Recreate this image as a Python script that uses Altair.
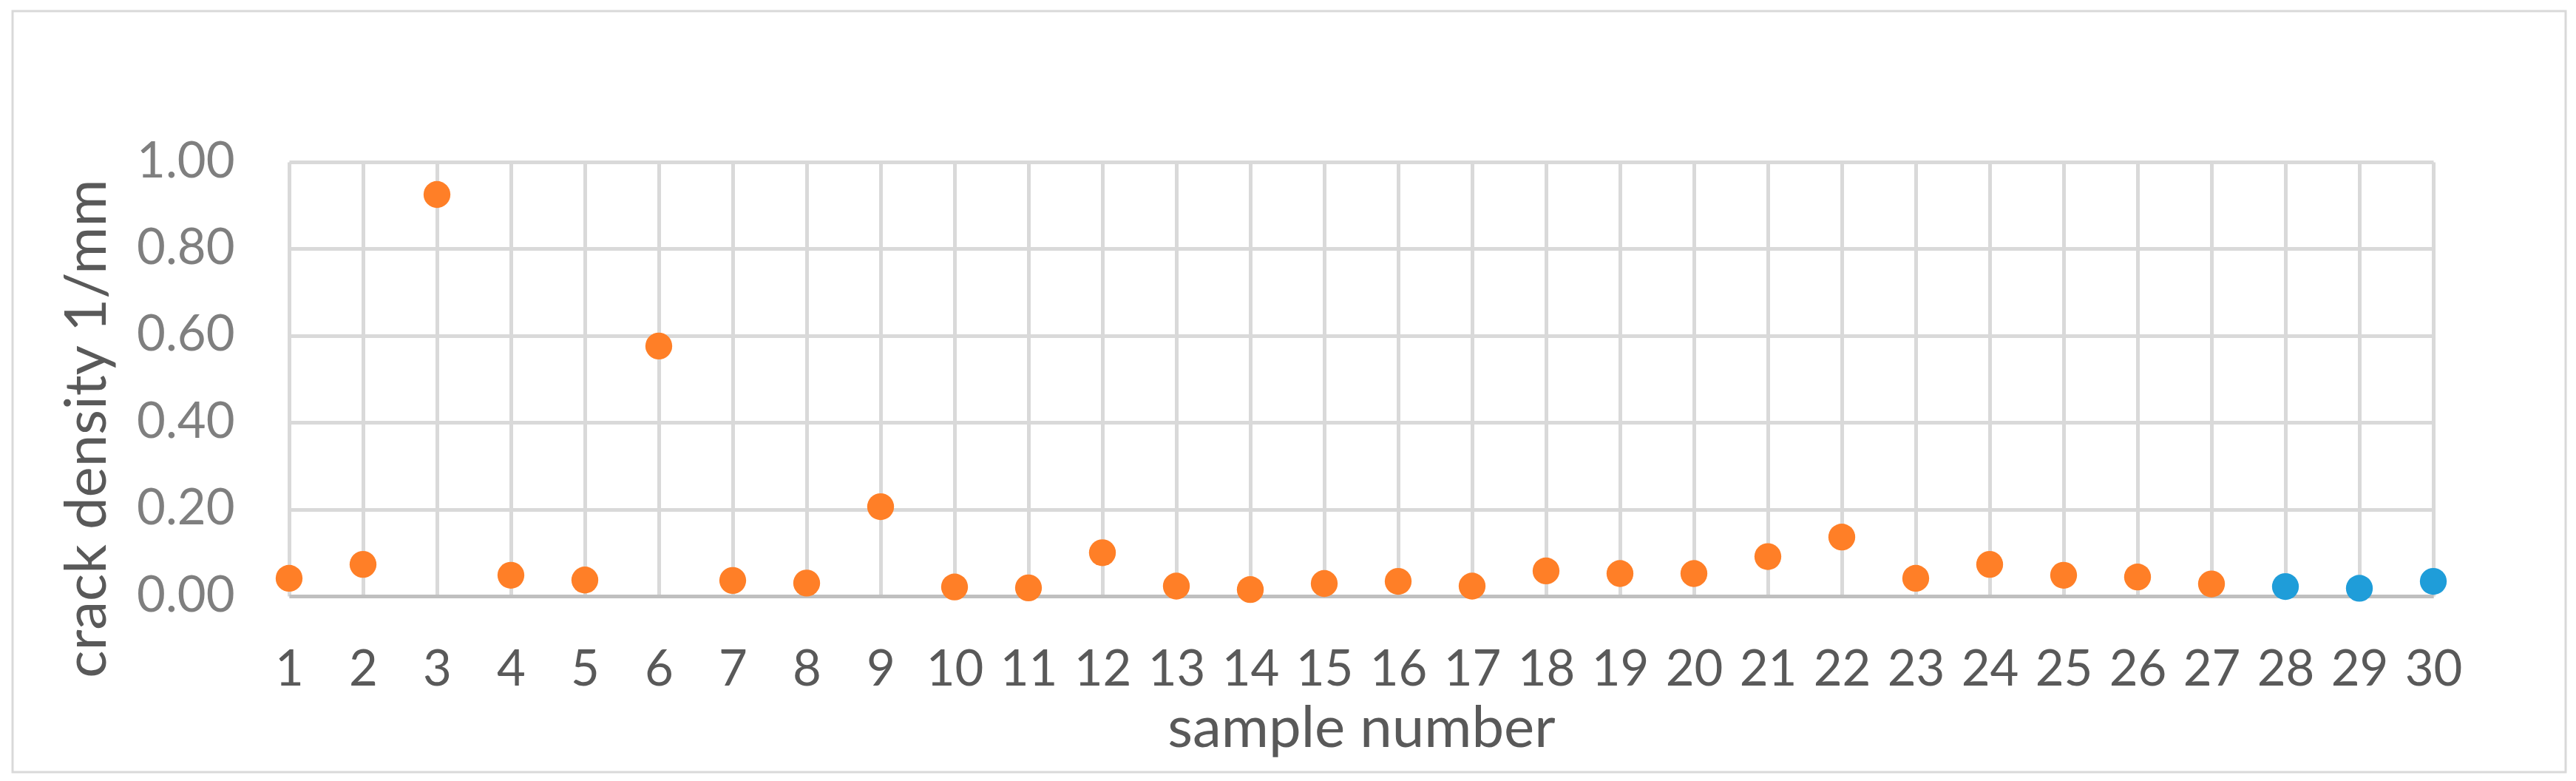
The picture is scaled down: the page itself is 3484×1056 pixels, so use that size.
import altair as alt
import pandas as pd

samples = [1, 2, 3, 4, 5, 6, 7, 8, 9, 10, 11, 12, 13, 14, 15,
           16, 17, 18, 19, 20, 21, 22, 23, 24, 25, 26, 27, 28, 29, 30]
density = [0.041, 0.073, 0.925, 0.048, 0.037, 0.576, 0.036, 0.030, 0.206, 0.021,
           0.019, 0.100, 0.023, 0.015, 0.029, 0.034, 0.023, 0.058, 0.052, 0.052,
           0.091, 0.136, 0.041, 0.073, 0.048, 0.044, 0.028, 0.022, 0.018, 0.034]
group = ["A"] * 27 + ["B"] * 3
y_ticks = [0.0, 0.2, 0.4, 0.6, 0.8, 1.0]

df = pd.DataFrame({"sample": samples, "density": density, "group": group})

FONT = "Lato"
W, H = 2900, 587

points = alt.Chart(df).mark_circle(size=1320, opacity=1).encode(
    x=alt.X("sample:Q",
            scale=alt.Scale(domain=[1, 30], nice=False, zero=False),
            axis=alt.Axis(values=samples, format="d", grid=True,
                          gridColor="#d9d9d9", gridWidth=5,
                          domainColor="#bfbfbf", domainWidth=5,
                          ticks=False, labelFont=FONT, labelFontSize=67,
                          labelColor="#595959", labelBaseline="alphabetic",
                          labelPadding=120, labelFlush=False, labelOverlap=False,
                          title="sample number", titleFont=FONT, titleFontSize=78,
                          titleFontWeight="normal", titleColor="#595959",
                          titleBaseline="alphabetic", titleY=203)),
    y=alt.Y("density:Q",
            scale=alt.Scale(domain=[0, 1], nice=False, zero=True),
            axis=alt.Axis(values=y_ticks, format=".2f", grid=True,
                          gridColor="#d9d9d9", gridWidth=5, domain=False,
                          ticks=False, labelFont=FONT, labelFontSize=67,
                          labelColor="#7f7f7f", labelPadding=74,
                          labelFlush=False, labelOverlap=False,
                          title="crack density 1/mm", titleFont=FONT,
                          titleFontSize=78, titleFontWeight="normal",
                          titleColor="#595959", titleAngle=270,
                          titleAlign="center", titleBaseline="alphabetic",
                          titleX=-249, titleY=360)),
    color=alt.Color("group:N",
                    scale=alt.Scale(domain=["A", "B"], range=["#ff7f27", "#1f9dd9"]),
                    legend=None),
)

border = alt.Chart(pd.DataFrame({"k": [0]})).mark_rect(
    fill=None, stroke="#d9d9d9", strokeWidth=3
).encode(
    x=alt.value(-374), x2=alt.value(3079),
    y=alt.value(-204), y2=alt.value(825),
)

chart = alt.layer(border, points).properties(
    width=W, height=H,
    autosize=alt.AutoSizeParams(type="none"),
    padding={"left": 383, "top": 211, "right": 185, "bottom": 242},
).configure_view(stroke=None).configure(background="white")

chart.save("out.html", embed_options={"renderer": "svg", "actions": False})
